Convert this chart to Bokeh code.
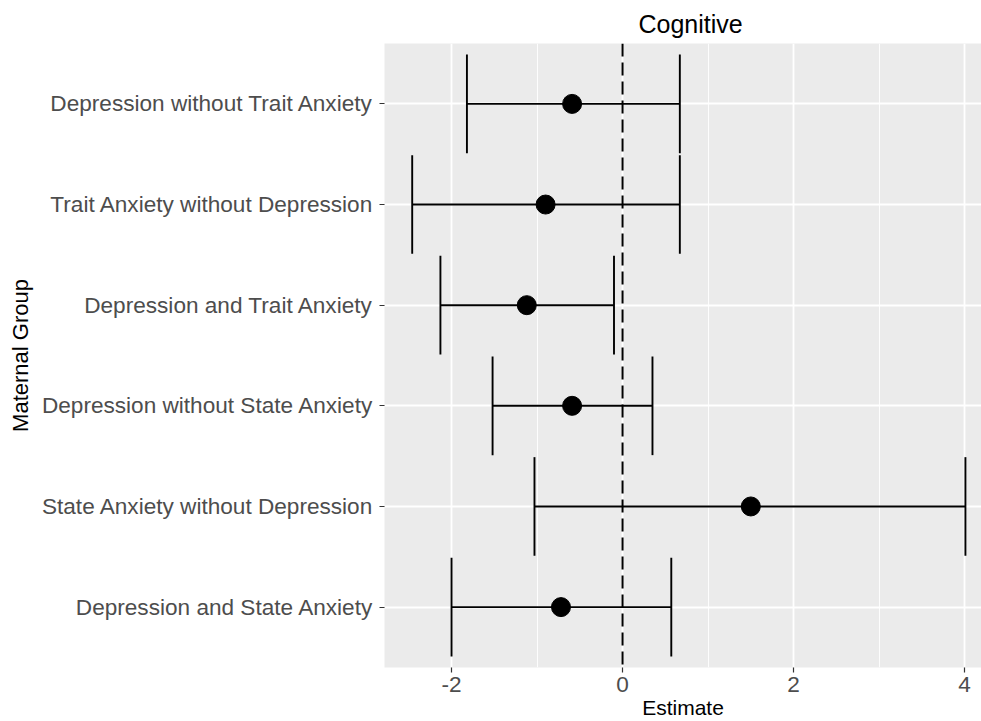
from bokeh.plotting import figure
from bokeh.models import Range1d, FixedTicker, Span
from bokeh.embed import file_html
from bokeh.resources import INLINE

# Data (top to bottom as displayed)
groups = [
    "Depression without Trait Anxiety",
    "Trait Anxiety without Depression",
    "Depression and Trait Anxiety",
    "Depression without State Anxiety",
    "State Anxiety without Depression",
    "Depression and State Anxiety",
]
estimate = [-0.59, -0.90, -1.12, -0.59, 1.50, -0.72]
lower = [-1.82, -2.46, -2.13, -1.52, -1.03, -2.00]
upper = [0.67, 0.67, -0.10, 0.35, 4.01, 0.57]
x_ticks = [-2, 0, 2, 4]
x_minor = [-3, -1, 1, 3]

n = len(groups)
ypos = [n - i for i in range(n)]
cap = 0.49

FONT = "Liberation Sans"

p = figure(width=981, height=721, output_backend="svg", toolbar_location=None,
           x_range=Range1d(-2.784, 4.198), y_range=Range1d(0.4, n + 0.6),
           min_border_left=384, min_border_right=0, min_border_top=43,
           min_border_bottom=54, title="Cognitive")

p.background_fill_color = "#EBEBEB"
p.border_fill_color = "white"
p.outline_line_color = None

# title
p.title.text_font = FONT
p.title.text_font_size = "25px"
p.title.text_font_style = "normal"
p.title.text_color = "black"
p.title.align = "left"
p.title.offset = 254
p.title.standoff = 12

# grids
p.xgrid.ticker = FixedTicker(ticks=x_ticks, minor_ticks=x_minor)
p.xgrid.grid_line_color = "white"
p.xgrid.grid_line_width = 1.8
p.xgrid.minor_grid_line_color = "white"
p.xgrid.minor_grid_line_width = 0.9
p.ygrid.ticker = FixedTicker(ticks=ypos)
p.ygrid.grid_line_color = "white"
p.ygrid.grid_line_width = 1.8

# axes
p.xaxis.ticker = FixedTicker(ticks=x_ticks, minor_ticks=x_minor)
p.xaxis.major_label_overrides = {t: str(t) for t in x_ticks}
p.yaxis.ticker = FixedTicker(ticks=ypos)
p.yaxis.major_label_overrides = {y: g for y, g in zip(ypos, groups)}
p.xaxis.axis_label = "Estimate"
p.yaxis.axis_label = "Maternal Group"
for ax in (p.xaxis, p.yaxis):
    ax.axis_line_color = None
    ax.major_tick_line_color = "#333333"
    ax.major_tick_line_width = 1.2
    ax.major_tick_out = 5
    ax.major_tick_in = 0
    ax.minor_tick_out = 0
    ax.minor_tick_in = 0
    ax.minor_tick_line_color = None
    ax.major_label_text_font = FONT
    ax.major_label_text_font_size = "22.6px"
    ax.major_label_text_color = "#4D4D4D"
    ax.axis_label_text_font = FONT
    ax.axis_label_text_font_size = "21px"
    ax.axis_label_text_font_style = "normal"
    ax.axis_label_text_color = "black"
p.yaxis.major_label_standoff = 6
p.yaxis.axis_label_standoff = 6
p.yaxis.axis_label_text_font_size = "22px"
p.xaxis.major_label_standoff = 4
p.xaxis.axis_label_standoff = 1

# reference line
p.add_layout(Span(location=0, dimension="height", line_color="black",
                  line_width=2, line_dash="13 6"))

# error bars
p.segment(x0=lower, x1=upper, y0=ypos, y1=ypos, line_color="black", line_width=1.9)
p.segment(x0=lower, x1=lower, y0=[y - cap for y in ypos], y1=[y + cap for y in ypos],
          line_color="black", line_width=1.9)
p.segment(x0=upper, x1=upper, y0=[y - cap for y in ypos], y1=[y + cap for y in ypos],
          line_color="black", line_width=1.9)

# points
p.scatter(x=estimate, y=ypos, size=19, color="black")

open("out.html", "w").write(file_html(p, INLINE))
